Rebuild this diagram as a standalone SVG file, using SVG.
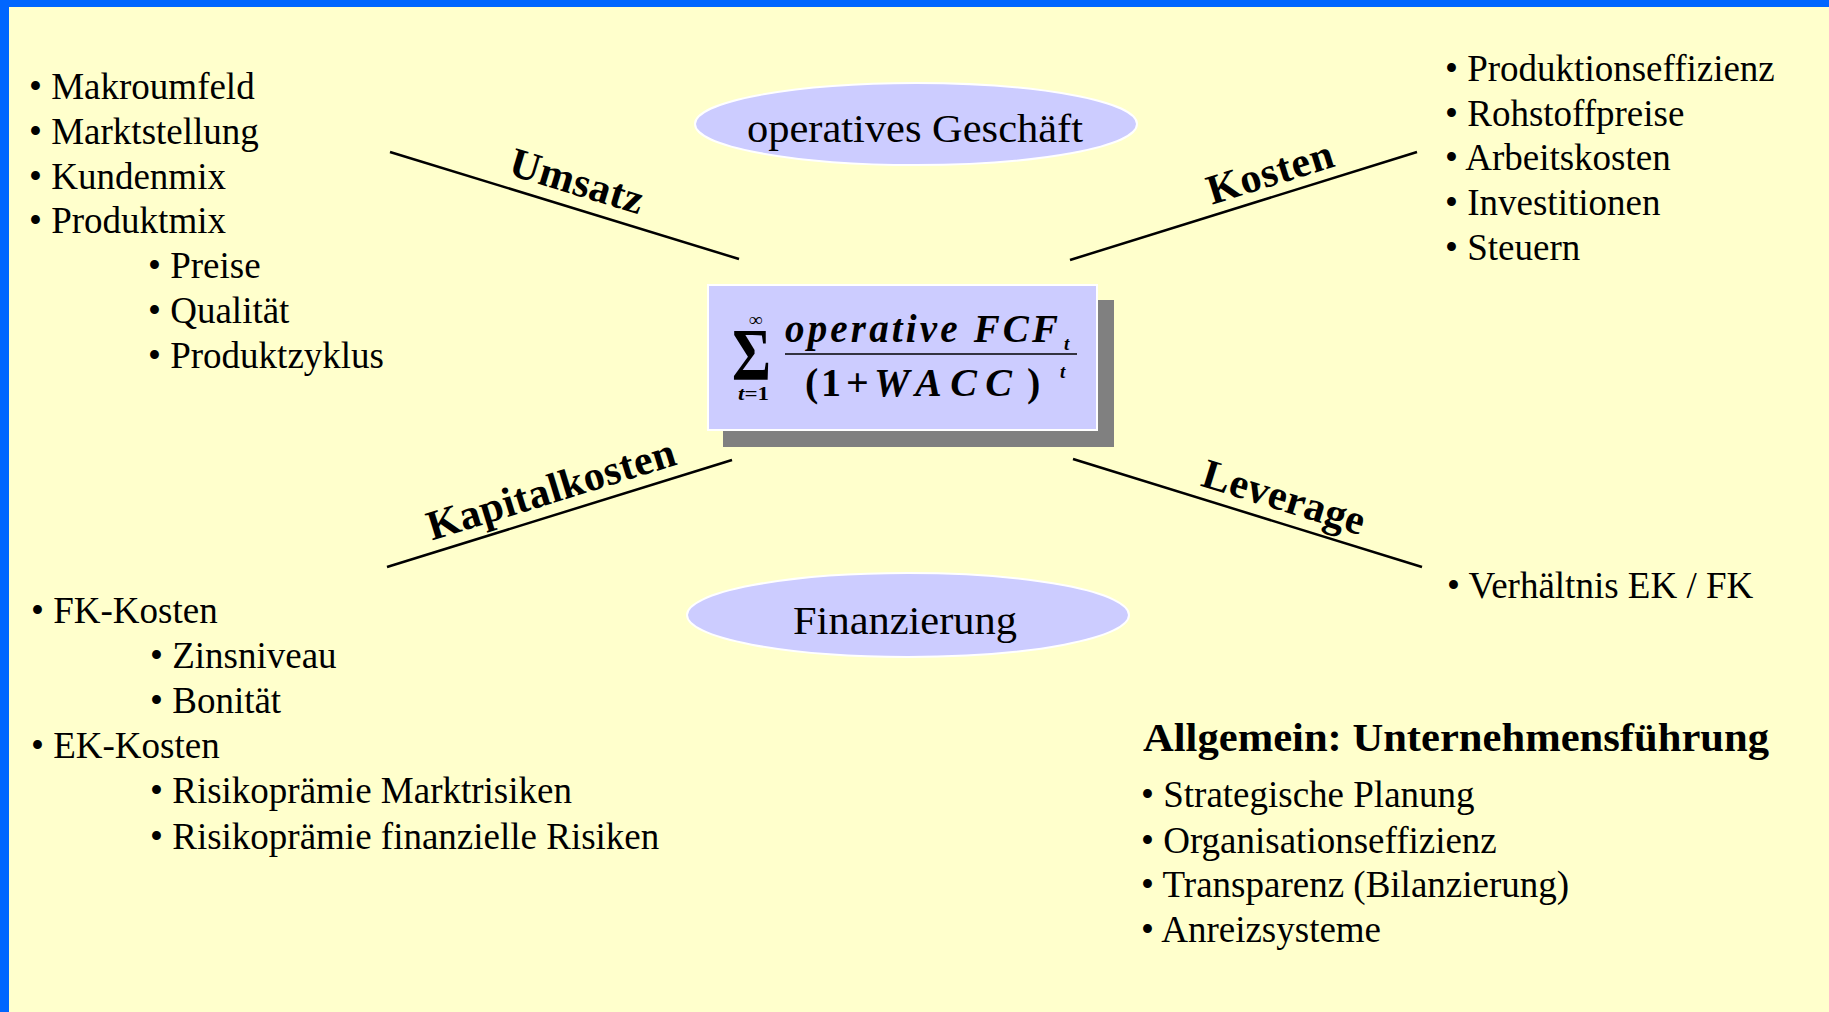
<svg xmlns="http://www.w3.org/2000/svg" width="1829" height="1012" viewBox="0 0 1829 1012">
  <style>
    .list { font-family: "Liberation Serif", "Times New Roman", serif; font-size: 37px; fill: #000; }
    .lab { font-family: "Liberation Serif", "Times New Roman", serif; font-size: 42px; font-weight: bold; fill: #000; text-anchor: middle; }
    .ell { fill: #CCCCFF; stroke: #FFFFFF; stroke-width: 2; }
    .elltxt { font-family: "Liberation Serif", "Times New Roman", serif; font-size: 40px; fill: #000; text-anchor: middle; }
    .conn line { stroke: #000; stroke-width: 2.5; }
    .f { font-family: "Liberation Serif", "Times New Roman", serif; font-weight: bold; fill: #000; }
  </style>

  <!-- page background and frame -->
  <rect x="0" y="0" width="1829" height="1012" fill="#FFFFCC"/>
  <rect x="0" y="0" width="1829" height="7" fill="#0066FF"/>
  <rect x="0" y="0" width="9" height="1012" fill="#0066FF"/>

  <!-- connectors -->
  <g id="connectors" class="conn">
    <line x1="390" y1="152" x2="739" y2="259"/>
    <line x1="1070" y1="260" x2="1417" y2="152"/>
    <line x1="387" y1="567" x2="732" y2="460"/>
    <line x1="1073" y1="459" x2="1422" y2="567"/>
  </g>

  <!-- connector labels -->
  <g id="labels">
    <text class="lab" transform="translate(577,181) rotate(17)" y="14" textLength="138" lengthAdjust="spacing">Umsatz</text>
    <text class="lab" transform="translate(1270,172) rotate(-17.3)" y="14" textLength="130" lengthAdjust="spacing">Kosten</text>
    <text class="lab" transform="translate(551,489) rotate(-17.2)" y="14" textLength="258" lengthAdjust="spacing">Kapitalkosten</text>
    <text class="lab" transform="translate(1284,497) rotate(17.2)" y="14" textLength="168" lengthAdjust="spacing">Leverage</text>
  </g>

  <!-- central formula -->
  <g id="formula">
    <rect x="723" y="300" width="391" height="147" fill="#808080"/>
    <rect x="708" y="285" width="389" height="145" fill="#CCCCFF" stroke="#FFFFFF" stroke-width="2"/>
    <text class="f" x="732" y="380" font-size="75" font-weight="normal" textLength="39" lengthAdjust="spacingAndGlyphs">Σ</text>
    <text class="f" x="756" y="326" font-size="19" text-anchor="middle">∞</text>
    <text class="f" x="738" y="400" font-size="19" textLength="31" lengthAdjust="spacingAndGlyphs"><tspan font-style="italic">t</tspan>=1</text>
    <text class="f" x="785" y="342" font-size="39" font-style="italic" textLength="273" lengthAdjust="spacing">operative FCF</text>
    <text class="f" x="1064" y="350" font-size="19" font-style="italic">t</text>
    <line x1="785" y1="354" x2="1077" y2="354" stroke="#000" stroke-width="1.5"/>
    <text class="f" x="805" y="396" font-size="40">(</text>
    <text class="f" x="821" y="396" font-size="40">1</text>
    <text class="f" x="846" y="396" font-size="40">+</text>
    <text class="f" x="874" y="396" font-size="40" font-style="italic" textLength="138" lengthAdjust="spacing">WACC</text>
    <text class="f" x="1027" y="396" font-size="40">)</text>
    <text class="f" x="1060" y="378" font-size="19" font-style="italic">t</text>
  </g>

  <!-- ellipses -->
  <g id="operatives-geschaeft">
    <ellipse class="ell" cx="916" cy="124" rx="221" ry="41"/>
    <text class="elltxt" x="915" y="142" textLength="336" lengthAdjust="spacingAndGlyphs">operatives Geschäft</text>
  </g>
  <g id="finanzierung">
    <ellipse class="ell" cx="908" cy="615" rx="221" ry="42"/>
    <text class="elltxt" x="905" y="634" textLength="224" lengthAdjust="spacingAndGlyphs">Finanzierung</text>
  </g>

  <!-- Umsatz drivers -->
  <g id="umsatz-list" class="list">
    <text x="29" y="99">• Makroumfeld</text>
    <text x="29" y="144">• Marktstellung</text>
    <text x="29" y="189">• Kundenmix</text>
    <text x="29" y="233">• Produktmix</text>
    <text x="148" y="278">• Preise</text>
    <text x="148" y="323">• Qualität</text>
    <text x="148" y="368">• Produktzyklus</text>
  </g>

  <!-- Kosten drivers -->
  <g id="kosten-list" class="list">
    <text x="1445" y="81">• Produktionseffizienz</text>
    <text x="1445" y="126">• Rohstoffpreise</text>
    <text x="1445" y="170">• Arbeitskosten</text>
    <text x="1445" y="215">• Investitionen</text>
    <text x="1445" y="260">• Steuern</text>
  </g>

  <!-- Kapitalkosten drivers -->
  <g id="kapitalkosten-list" class="list">
    <text x="31" y="623">• FK-Kosten</text>
    <text x="150" y="668">• Zinsniveau</text>
    <text x="150" y="713">• Bonität</text>
    <text x="31" y="758">• EK-Kosten</text>
    <text x="150" y="803">• Risikoprämie Marktrisiken</text>
    <text x="150" y="849">• Risikoprämie finanzielle Risiken</text>
  </g>

  <!-- Leverage driver -->
  <g id="leverage-list" class="list">
    <text x="1447" y="598">• Verhältnis EK / FK</text>
  </g>

  <!-- general management -->
  <g id="unternehmensfuehrung" class="list">
    <text x="1143" y="751" font-size="41" font-weight="bold" textLength="626" lengthAdjust="spacingAndGlyphs">Allgemein: Unternehmensführung</text>
    <text x="1141" y="807">• Strategische Planung</text>
    <text x="1141" y="853">• Organisationseffizienz</text>
    <text x="1141" y="897">• Transparenz (Bilanzierung)</text>
    <text x="1141" y="942">• Anreizsysteme</text>
  </g>
</svg>
